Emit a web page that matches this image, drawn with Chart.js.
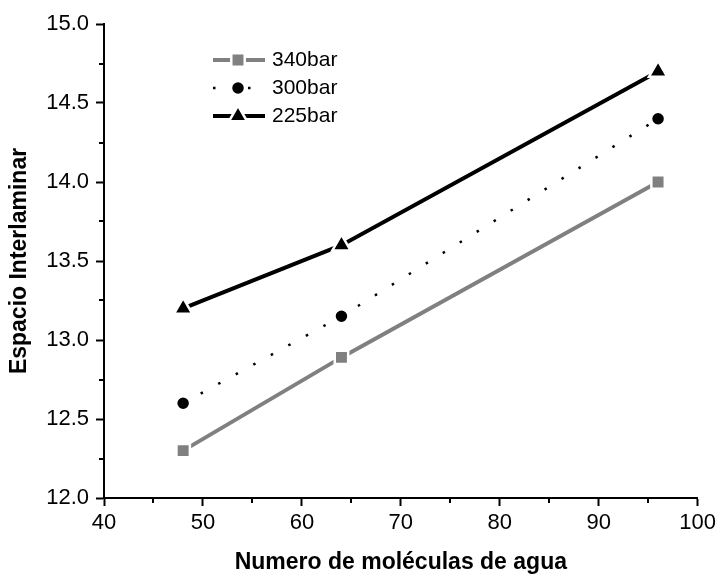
<!DOCTYPE html>
<html>
<head>
<meta charset="utf-8">
<script src="https://cdn.jsdelivr.net/npm/chart.js@4"></script>
<style>
  html, body { margin: 0; padding: 0; background: #fff; }
  #wrap { width: 720px; height: 576px; }
</style>
</head>
<body>
<div id="wrap"><canvas id="grafico"></canvas></div>
<script>
var moleculas = [48, 64, 96];
var serie340 = [12.3, 12.89, 14.0];
var serie300 = [12.6, 13.15, 14.4];
var serie225 = [13.2, 13.6, 14.7];
var nombres = ["340bar", "300bar", "225bar"];
var ticksX = [40, 50, 60, 70, 80, 90, 100];
var ticksY = [12.0, 12.5, 13.0, 13.5, 14.0, 14.5, 15.0];

Chart.defaults.font.family = '"Liberation Sans", Arial, sans-serif';
Chart.defaults.color = "#000";

function puntos(valores) {
  return moleculas.map(function (m, i) {
    return { x: m, y: valores[i] };
  });
}

function esMayor(v, lista) {
  return lista.some(function (t) {
    return Math.abs(t - v) < 1e-6;
  });
}

// ticks menores mas cortos que los mayores
var ticksMenores = {
  id: "ticksMenores",
  afterDraw: function (chart) {
    var ctx = chart.ctx;
    ctx.save();
    ctx.strokeStyle = "#000";
    ctx.lineWidth = 2;
    ["x", "y"].forEach(function (id) {
      var s = chart.scales[id];
      var mayores = id === "x" ? ticksX : ticksY;
      s.ticks.forEach(function (t) {
        if (esMayor(t.value, mayores)) return;
        var p = Math.round(s.getPixelForValue(t.value));
        ctx.beginPath();
        if (id === "x") {
          ctx.moveTo(p, s.top);
          ctx.lineTo(p, s.top + 5);
        } else {
          ctx.moveTo(s.right, p);
          ctx.lineTo(s.right - 5, p);
        }
        ctx.stroke();
      });
    });
    ctx.restore();
  },
};

var leyenda = {
  id: "leyenda",
  afterDraw: function (chart) {
    var ctx = chart.ctx;
    var filas = [60, 88, 116];
    chart.data.datasets.forEach(function (ds, i) {
      var y = filas[i];
      ctx.save();
      ctx.strokeStyle = ds.borderColor;
      ctx.lineWidth = ds.borderWidth;
      ctx.setLineDash(ds.borderDash ? [2.5, 15] : []);
      ctx.beginPath();
      ctx.moveTo(213, y);
      ctx.lineTo(265, y);
      ctx.stroke();
      ctx.setLineDash([]);
      ctx.fillStyle = ds.pointBackgroundColor;
      ctx.strokeStyle = "#fff";
      ctx.lineWidth = ds.pointBorderWidth;
      Chart.helpers.drawPoint(ctx, {
        pointStyle: ds.pointStyle,
        radius: ds.pointRadius,
        borderWidth: ds.pointBorderWidth,
        rotation: 0,
      }, 238, y);
      ctx.fillStyle = "#000";
      ctx.font = '21px "Liberation Sans", Arial, sans-serif';
      ctx.textBaseline = "middle";
      ctx.fillText(ds.label, 272, y);
      ctx.restore();
    });
  },
};

var ctx = document.getElementById("grafico");

new Chart(ctx, {
  type: "line",
  data: {
    datasets: [
      {
        label: nombres[0],
        data: puntos(serie340),
        borderColor: "#808080",
        borderWidth: 4,
        pointStyle: "rect",
        pointRadius: 9.5,
        pointBackgroundColor: "#808080",
        pointBorderColor: "#fff",
        pointBorderWidth: 2.5,
      },
      {
        label: nombres[1],
        data: puntos(serie300),
        borderColor: "#000",
        borderWidth: 2.5,
        borderDash: [2.5, 17.5],
        pointStyle: "circle",
        pointRadius: 7,
        pointBackgroundColor: "#000",
        pointBorderColor: "#fff",
        pointBorderWidth: 2.5,
      },
      {
        label: nombres[2],
        data: puntos(serie225),
        borderColor: "#000",
        borderWidth: 4,
        pointStyle: "triangle",
        pointRadius: 10.5,
        pointBackgroundColor: "#000",
        pointBorderColor: "#fff",
        pointBorderWidth: 2.5,
      },
    ],
  },
  options: {
    responsive: true,
    maintainAspectRatio: false,
    animation: false,
    events: [],
    layout: {
      padding: { top: 24, right: 20, left: 0, bottom: 0 },
    },
    plugins: {
      legend: { display: false },
      tooltip: { enabled: false },
    },
    scales: {
      x: {
        type: "linear",
        min: 40,
        max: 100,
        border: { display: true, color: "#000", width: 2 },
        grid: {
          drawOnChartArea: false,
          drawTicks: true,
          tickLength: 8,
          tickWidth: 2,
          tickColor: function (c) {
            return c.tick && esMayor(c.tick.value, ticksX) ? "#000" : "rgba(0,0,0,0)";
          },
        },
        ticks: {
          stepSize: 5,
          padding: 4,
          maxRotation: 0,
          autoSkip: false,
          font: { size: 22 },
          callback: function (v) {
            return esMayor(v, ticksX) ? String(v) : "";
          },
        },
        title: {
          display: true,
          text: "Numero de moléculas de agua",
          font: { size: 23, weight: "bold" },
          padding: { top: 0, bottom: 0 },
        },
        afterFit: function (s) {
          s.height = 78;
        },
      },
      y: {
        min: 12,
        max: 15,
        border: { display: true, color: "#000", width: 2 },
        grid: {
          drawOnChartArea: false,
          drawTicks: true,
          tickLength: 8,
          tickWidth: 2,
          tickColor: function (c) {
            return c.tick && esMayor(c.tick.value, ticksY) ? "#000" : "rgba(0,0,0,0)";
          },
        },
        ticks: {
          stepSize: 0.25,
          padding: 7,
          autoSkip: false,
          font: { size: 22 },
          callback: function (v) {
            return esMayor(v, ticksY) ? v.toFixed(1) : "";
          },
        },
        title: {
          display: true,
          text: "Espacio Interlaminar",
          font: { size: 23, weight: "bold" },
          padding: { top: 6, bottom: 0 },
        },
        afterFit: function (s) {
          s.width = 104;
        },
      },
    },
  },
  plugins: [ticksMenores, leyenda],
});
</script>
</body>
</html>
